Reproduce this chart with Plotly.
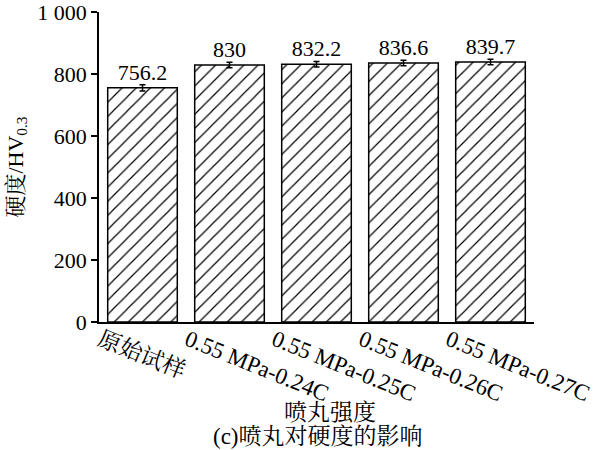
import plotly.graph_objects as go

# Data
categories = ["原始试样", "0.55 MPa-0.24C", "0.55 MPa-0.25C", "0.55 MPa-0.26C", "0.55 MPa-0.27C"]
hardness = [756.2, 830, 832.2, 836.6, 839.7]
hardness_err = [10, 9, 9, 9, 9]
bar_labels = ["756.2", "830", "832.2", "836.6", "839.7"]
y_ticks = [0, 200, 400, 600, 800, 1000]
y_ticktext = ["0", "200", "400", "600", "800", "1 000"]

font_family = "Liberation Serif, Noto Serif CJK SC, Noto Sans CJK SC"

fig = go.Figure()
fig.add_trace(go.Bar(
    x=categories,
    y=hardness,
    error_y=dict(type="data", array=hardness_err, color="black", thickness=1.5, width=3),
    text=bar_labels,
    textposition="outside",
    textfont=dict(size=22, color="black", family=font_family),
    cliponaxis=False,
    marker=dict(
        color="white",
        line=dict(color="black", width=1.5),
        pattern=dict(shape="/", fgcolor="black", fgopacity=1, bgcolor="white",
                     size=10, solidity=0.12),
    ),
))

fig.update_layout(
    width=600,
    height=450,
    margin=dict(l=99, r=66, t=12, b=128),
    plot_bgcolor="white",
    paper_bgcolor="white",
    font=dict(family=font_family, size=22, color="black"),
    bargap=0.2,
    showlegend=False,
    annotations=[
        dict(text="喷丸强度", x=0.53, y=-0.292, xref="paper", yref="paper",
             showarrow=False, yanchor="middle", font=dict(size=23)),
        dict(text="(c)喷丸对硬度的影响", x=0.503, y=-0.37, xref="paper", yref="paper",
             showarrow=False, yanchor="middle", font=dict(size=23)),
    ],
)

fig.update_xaxes(
    automargin=False,
    showline=True, linecolor="black", linewidth=1.5,
    ticks="", tickangle=22, ticklabelshift=-42, ticklabelstandoff=-6,
    tickfont=dict(size=23),
    range=[-0.5, 4.5],
)
fig.update_yaxes(
    automargin=False,
    range=[0, 1001],
    showline=True, linecolor="black", linewidth=1.5,
    showgrid=False, zeroline=False,
    ticks="outside", ticklen=6, tickwidth=1.5, tickcolor="black",
    tickvals=y_ticks, ticktext=y_ticktext,
    tickfont=dict(size=22),
    ticklabeloverflow="allow",
    title=dict(text="硬度/HV<sub>0.3</sub>", standoff=8, font=dict(size=22)),
)

# remove the default page margin so the figure sits at the window's corner
fig.write_html("out.html", config={"displayModeBar": False},
               post_script="document.body.style.margin='0';")
